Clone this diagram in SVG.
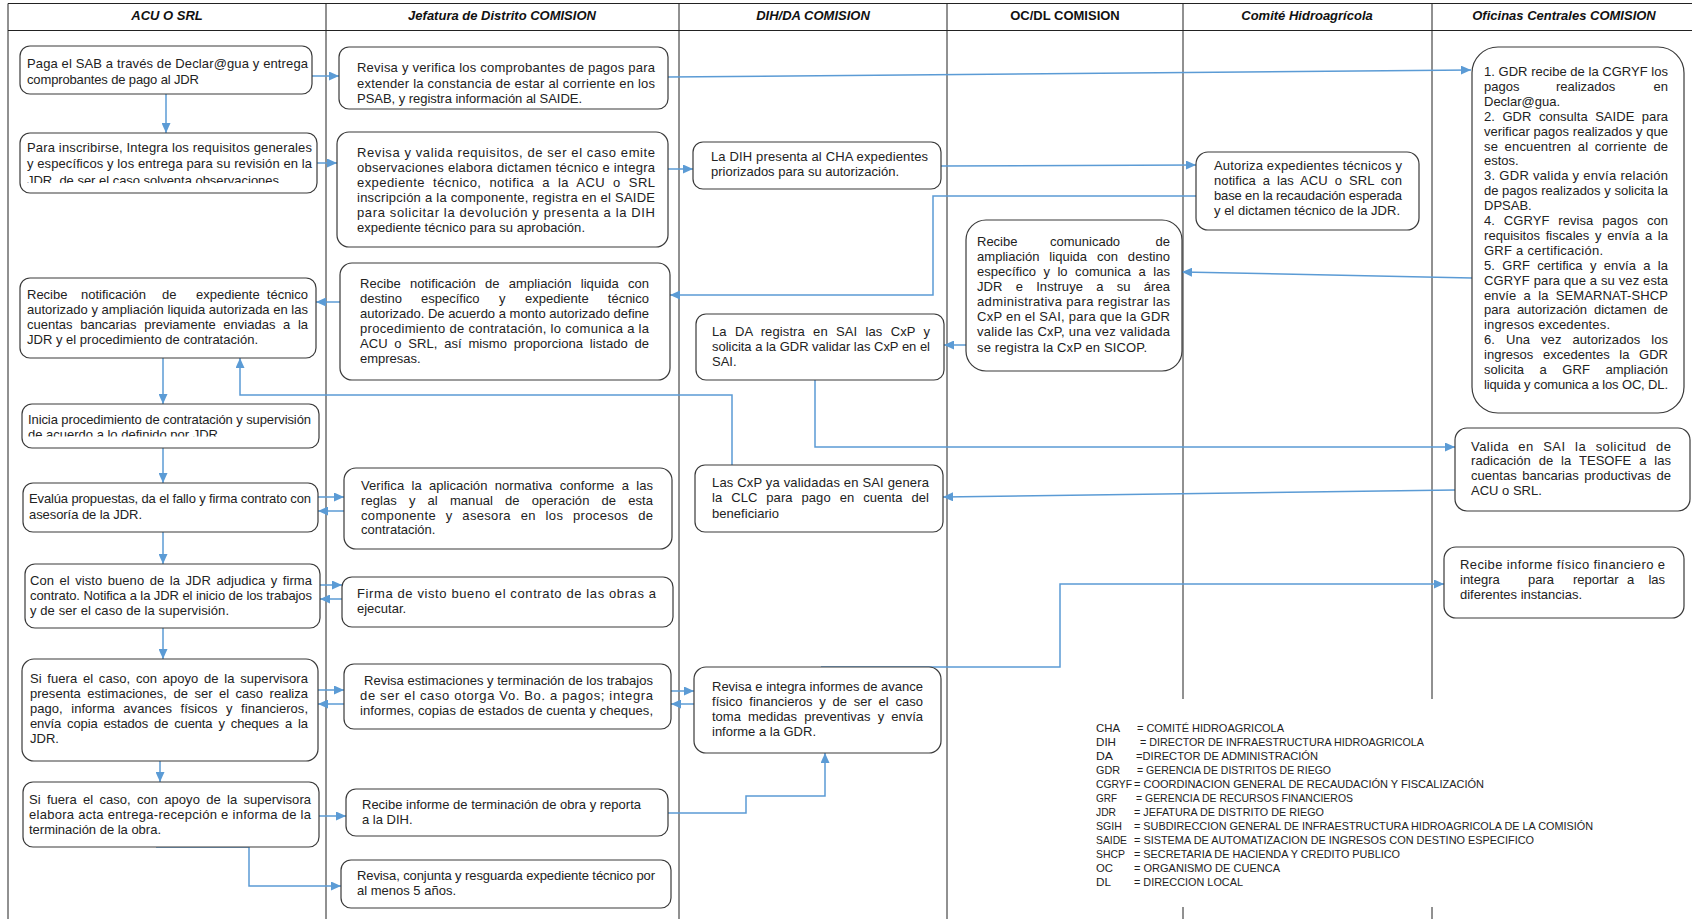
<svg xmlns="http://www.w3.org/2000/svg" width="1692" height="919" viewBox="0 0 1692 919">
<style>
.box{fill:#fff;stroke:#3a3a3a;stroke-width:1.2}
.t{font-family:'Liberation Sans',Arial,sans-serif;font-size:13px;fill:#222}
.hdr{font-family:'Liberation Sans',Arial,sans-serif;font-size:13px;font-weight:bold;font-style:italic;fill:#111;text-anchor:middle}
.lane{stroke:#222;stroke-width:1;fill:none}
.c{fill:none;stroke:#5b9bd5;stroke-width:1.5;marker-end:url(#ah)}
.lg{font-family:'Liberation Sans',Arial,sans-serif;font-size:11.8px;fill:#222}
</style>
<defs>
<marker id="ah" markerUnits="userSpaceOnUse" markerWidth="10" markerHeight="9" refX="10" refY="4.5" orient="auto">
<path d="M0,0 L10,4.5 L0,9 z" fill="#5b9bd5"/>
</marker>
<clipPath id="clipA2"><rect x="20" y="133" width="297" height="50"/></clipPath>
<clipPath id="clipA4"><rect x="22" y="404" width="297" height="32.5"/></clipPath>
<clipPath id="clipF2"><rect x="1455" y="441.5" width="235" height="70"/></clipPath>
</defs>
<rect width="1692" height="919" fill="#fff"/>

<g id="lanes">
<line class="lane" x1="8" y1="3.5" x2="1692" y2="3.5"/>
<line class="lane" x1="8" y1="30.5" x2="1692" y2="30.5"/>
<line class="lane" x1="8" y1="3.5" x2="8" y2="919"/>
<line class="lane" x1="326" y1="3.5" x2="326" y2="919"/>
<line class="lane" x1="679" y1="3.5" x2="679" y2="919"/>
<line class="lane" x1="947" y1="3.5" x2="947" y2="919"/>
<line class="lane" x1="1183" y1="3.5" x2="1183" y2="699"/>
<line class="lane" x1="1183" y1="907" x2="1183" y2="919"/>
<line class="lane" x1="1432" y1="3.5" x2="1432" y2="699"/>
<line class="lane" x1="1432" y1="907" x2="1432" y2="919"/>
<text class="hdr" x="167" y="20">ACU O SRL</text>
<text class="hdr" x="502" y="20">Jefatura de Distrito COMISION</text>
<text class="hdr" x="813" y="20">DIH/DA COMISION</text>
<text class="hdr" x="1065" y="20" style="font-style:normal">OC/DL COMISION</text>
<text class="hdr" x="1307" y="20">Comité Hidroagrícola</text>
<text class="hdr" x="1564" y="20">Oficinas Centrales COMISION</text>
</g>

<g id="connectors">
<path class="c" d="M312,76 L339,76"/>
<path class="c" d="M668,77 L1471,70"/>
<path class="c" d="M166,94 L166,133"/>
<path class="c" d="M317,163 L337,163"/>
<path class="c" d="M668,169 L693,169"/>
<path class="c" d="M941,166 L1196,165"/>
<path class="c" d="M1196,196 H933 V295 H670"/>
<path class="c" d="M340,302 H316"/>
<path class="c" d="M163,358 V404"/>
<path class="c" d="M799,466 H732 V395 H240 V358"/>
<path class="c" d="M163,448 V483"/>
<path class="c" d="M318,497 H344"/>
<path class="c" d="M344,511 H318"/>
<path class="c" d="M163,532 V564"/>
<path class="c" d="M320,585 H342"/>
<path class="c" d="M342,599 H320"/>
<path class="c" d="M163,628 V659"/>
<path class="c" d="M318,690 H344"/>
<path class="c" d="M344,704 H318"/>
<path class="c" d="M671,691 H694"/>
<path class="c" d="M694,704 H671"/>
<path class="c" d="M160,761 V782"/>
<path class="c" d="M319,816 H346"/>
<path class="c" d="M668,813 H746 V796 H825 V753"/>
<path class="c" d="M156,847 H249 V886 H341"/>
<path class="c" d="M821,667 H1060 V584 H1444"/>
<path class="c" d="M1472,278 L1182,272"/>
<path class="c" d="M966,345 H944"/>
<path class="c" d="M815,380 V447 H1455"/>
<path class="c" d="M1455,490 L943,497"/>
</g>

<g id="A1"><rect class="box" x="20" y="46" width="292" height="48" rx="10"/>
<text class="t" x="27" y="68" textLength="281" lengthAdjust="spacing">Paga el SAB a través de Declar@gua y entrega</text>
<text class="t" x="27" y="84" textLength="172" lengthAdjust="spacing">comprobantes de pago al JDR</text></g>

<g id="A2"><rect class="box" x="20" y="133" width="297" height="60" rx="10"/>
<g clip-path="url(#clipA2)">
<text class="t" x="27" y="151.5" textLength="285" lengthAdjust="spacing">Para inscribirse, Integra los requisitos generales</text>
<text class="t" x="27" y="167.5" textLength="285" lengthAdjust="spacing">y específicos y los entrega para su revisión en la</text>
<text class="t" x="27" y="184.5" textLength="252" lengthAdjust="spacing">JDR, de ser el caso solventa observaciones</text></g></g>

<g id="A3"><rect class="box" x="20" y="278" width="296" height="80" rx="10"/>
<text class="t" y="299"><tspan x="27">Recibe</tspan><tspan x="81">notificación</tspan><tspan x="162">de</tspan><tspan x="196">expediente</tspan><tspan x="308" text-anchor="end">técnico</tspan></text>
<text class="t" x="27" y="314" textLength="281" lengthAdjust="spacing">autorizado y ampliación liquida autorizada en las</text>
<text class="t" x="27" y="329" textLength="281" lengthAdjust="spacing" style="word-spacing:4px">cuentas bancarias previamente enviadas a la</text>
<text class="t" x="27" y="344" textLength="231" lengthAdjust="spacing">JDR y el procedimiento de contratación.</text></g>

<g id="A4"><rect class="box" x="22" y="404" width="297" height="44" rx="10"/>
<g clip-path="url(#clipA4)">
<text class="t" x="28" y="423.5" textLength="283" lengthAdjust="spacing">Inicia procedimiento de contratación y supervisión</text>
<text class="t" x="28" y="438.5" textLength="190" lengthAdjust="spacing">de acuerdo a lo definido por JDR</text></g></g>

<g id="A5"><rect class="box" x="23" y="483" width="295" height="49" rx="10"/>
<text class="t" x="29" y="503" textLength="282" lengthAdjust="spacing">Evalúa propuestas, da el fallo y firma contrato con</text>
<text class="t" x="29" y="518.5" textLength="113" lengthAdjust="spacing">asesoría de la JDR.</text></g>

<g id="A6"><rect class="box" x="25" y="564" width="295" height="64" rx="10"/>
<text class="t" x="30" y="585" textLength="282" lengthAdjust="spacing" style="word-spacing:1.8px">Con el visto bueno de la JDR adjudica y firma</text>
<text class="t" x="30" y="600" textLength="282" lengthAdjust="spacing">contrato. Notifica a la JDR el inicio de los trabajos</text>
<text class="t" x="30" y="615" textLength="199" lengthAdjust="spacing">y de ser el caso de la  supervisión.</text></g>

<g id="A7"><rect class="box" x="22" y="659" width="296" height="102" rx="12"/>
<text class="t" x="30" y="683" textLength="278" lengthAdjust="spacing" style="word-spacing:2px">Si fuera el caso, con apoyo de la supervisora</text>
<text class="t" x="30" y="698" textLength="278" lengthAdjust="spacing" style="word-spacing:2.8px">presenta estimaciones, de ser el caso realiza</text>
<text class="t" x="30" y="713" textLength="278" lengthAdjust="spacing" style="word-spacing:4.8px">pago, informa avances físicos y financieros,</text>
<text class="t" x="30" y="728" textLength="278" lengthAdjust="spacing" style="word-spacing:2.5px">envía copia estados de cuenta y cheques a la</text>
<text class="t" x="30" y="743">JDR.</text></g>

<g id="A8"><rect class="box" x="23" y="782" width="296" height="65" rx="10"/>
<text class="t" x="29" y="804" textLength="282" lengthAdjust="spacing" style="word-spacing:2.6px">Si fuera el caso, con apoyo de la supervisora</text>
<text class="t" x="29" y="819" textLength="282" lengthAdjust="spacing">elabora acta entrega-recepción e informa de la</text>
<text class="t" x="29" y="834" textLength="132" lengthAdjust="spacing">terminación de la obra.</text></g>

<g id="J1"><rect class="box" x="339" y="47" width="329" height="62" rx="10"/>
<text class="t" x="357" y="72" textLength="298" lengthAdjust="spacing">Revisa y verifica los comprobantes de pagos para</text>
<text class="t" x="357" y="87.5" textLength="298" lengthAdjust="spacing">extender la constancia de estar al corriente en los</text>
<text class="t" x="357" y="103" textLength="225" lengthAdjust="spacing">PSAB, y registra información al SAIDE.</text></g>

<g id="J2"><rect class="box" x="337" y="132" width="331" height="115" rx="12"/>
<text class="t" x="357" y="157" textLength="298" lengthAdjust="spacing">Revisa y valida requisitos, de ser el caso emite</text>
<text class="t" x="357" y="172" textLength="298" lengthAdjust="spacing">observaciones elabora dictamen técnico e integra</text>
<text class="t" x="357" y="187" textLength="298" lengthAdjust="spacing" style="word-spacing:4px">expediente técnico, notifica a la ACU o SRL</text>
<text class="t" x="357" y="202" textLength="298" lengthAdjust="spacing">inscripción a la componente, registra en el SAIDE</text>
<text class="t" x="357" y="217" textLength="298" lengthAdjust="spacing">para solicitar la devolución y presenta a la DIH</text>
<text class="t" x="357" y="232" textLength="228" lengthAdjust="spacing">expediente técnico para su aprobación.</text></g>

<g id="J3"><rect class="box" x="340" y="263" width="330" height="117" rx="12"/>
<text class="t" x="360" y="288" textLength="289" lengthAdjust="spacing" style="word-spacing:5.5px">Recibe notificación de ampliación liquida con</text>
<text class="t" y="303"><tspan x="360">destino</tspan><tspan x="421">específico</tspan><tspan x="499">y</tspan><tspan x="525">expediente</tspan><tspan x="649" text-anchor="end">técnico</tspan></text>
<text class="t" x="360" y="318" textLength="289" lengthAdjust="spacing">autorizado. De acuerdo a monto autorizado define</text>
<text class="t" x="360" y="333" textLength="289" lengthAdjust="spacing">procedimiento de contratación, lo comunica a la</text>
<text class="t" x="360" y="348" textLength="289" lengthAdjust="spacing" style="word-spacing:3px">ACU o SRL, así mismo proporciona listado de</text>
<text class="t" x="360" y="363">empresas.</text></g>

<g id="J4"><rect class="box" x="344" y="468" width="328" height="81" rx="12"/>
<text class="t" x="361" y="490" textLength="292" lengthAdjust="spacing" style="word-spacing:3.6px">Verifica la aplicación normativa conforme a las</text>
<text class="t" x="361" y="505" textLength="292" lengthAdjust="spacing" style="word-spacing:8.4px">reglas y al manual de operación de esta</text>
<text class="t" x="361" y="520" textLength="292" lengthAdjust="spacing" style="word-spacing:5.8px">componente y asesora  en los procesos de</text>
<text class="t" x="361" y="534">contratación.</text></g>

<g id="J5"><rect class="box" x="342" y="577" width="331" height="50" rx="10"/>
<text class="t" x="357" y="598" textLength="299" lengthAdjust="spacing">Firma de visto bueno el contrato de las obras a</text>
<text class="t" x="357" y="613">ejecutar.</text></g>

<g id="J6"><rect class="box" x="344" y="664" width="327" height="65" rx="10"/>
<text class="t" x="364" y="684.5" textLength="289" lengthAdjust="spacing">Revisa estimaciones y terminación de los trabajos</text>
<text class="t" x="360" y="699.5" textLength="293" lengthAdjust="spacing">de ser el caso otorga Vo. Bo. a pagos; integra</text>
<text class="t" x="360" y="714.5" textLength="293" lengthAdjust="spacing">informes, copias de estados de cuenta y cheques,</text></g>

<g id="J7"><rect class="box" x="346" y="789" width="322" height="47" rx="10"/>
<text class="t" x="362" y="808.5" textLength="279" lengthAdjust="spacing">Recibe informe de terminación de obra y reporta</text>
<text class="t" x="362" y="823.5">a la DIH.</text></g>

<g id="J8"><rect class="box" x="341" y="860" width="330" height="48" rx="10"/>
<text class="t" x="357" y="879.5" textLength="298" lengthAdjust="spacing">Revisa, conjunta y resguarda expediente técnico por</text>
<text class="t" x="357" y="894.5">al menos 5 años.</text></g>

<g id="D1"><rect class="box" x="693" y="142" width="248" height="47" rx="10"/>
<text class="t" x="711" y="161" textLength="217" lengthAdjust="spacing">La DIH presenta al CHA expedientes</text>
<text class="t" x="711" y="176" textLength="188" lengthAdjust="spacing">priorizados para su autorización.</text></g>

<g id="D2"><rect class="box" x="696" y="314" width="248" height="66" rx="10"/>
<text class="t" x="712" y="336" textLength="218" lengthAdjust="spacing" style="word-spacing:4.5px">La DA registra en SAI las CxP y</text>
<text class="t" x="712" y="350.5" textLength="218" lengthAdjust="spacing">solicita a la GDR validar las CxP en el</text>
<text class="t" x="712" y="365.5">SAI.</text></g>

<g id="D3"><rect class="box" x="695" y="465" width="248" height="67" rx="10"/>
<text class="t" x="712" y="486.5" textLength="217" lengthAdjust="spacing">Las CxP ya validadas en SAI genera</text>
<text class="t" x="712" y="501.5" textLength="217" lengthAdjust="spacing" style="word-spacing:5.3px">la CLC para pago en cuenta del</text>
<text class="t" x="712" y="517.5" textLength="67" lengthAdjust="spacing">beneficiario</text></g>

<g id="D4"><rect class="box" x="694" y="667" width="247" height="86" rx="12"/>
<text class="t" x="712" y="690.5" textLength="211" lengthAdjust="spacing">Revisa e integra informes de avance</text>
<text class="t" x="712" y="705.5" textLength="211" lengthAdjust="spacing" style="word-spacing:3px">físico financieros y de ser el caso</text>
<text class="t" x="712" y="720.5" textLength="211" lengthAdjust="spacing" style="word-spacing:3.5px">toma medidas preventivas y envía</text>
<text class="t" x="712" y="735.5" textLength="104" lengthAdjust="spacing">informe a la GDR.</text></g>

<g id="O1"><rect class="box" x="966" y="220" width="216" height="151" rx="20"/>
<text class="t" y="246"><tspan x="977">Recibe</tspan><tspan x="1050">comunicado</tspan><tspan x="1170" text-anchor="end">de</tspan></text>
<text class="t" x="977" y="261" textLength="193" lengthAdjust="spacing" style="word-spacing:6.2px">ampliación liquida con destino</text>
<text class="t" x="977" y="276" textLength="193" lengthAdjust="spacing" style="word-spacing:3.8px">específico y lo comunica a las</text>
<text class="t" x="977" y="291" textLength="193" lengthAdjust="spacing" style="word-spacing:9.5px">JDR e Instruye a su área</text>
<text class="t" x="977" y="306" textLength="193" lengthAdjust="spacing">administrativa para registrar las</text>
<text class="t" x="977" y="321" textLength="193" lengthAdjust="spacing">CxP en el SAI, para que la GDR</text>
<text class="t" x="977" y="336" textLength="193" lengthAdjust="spacing">valide las CxP, una vez validada</text>
<text class="t" x="977" y="351.5" textLength="170" lengthAdjust="spacing">se registra la CxP en SICOP.</text></g>

<g id="C1"><rect class="box" x="1196" y="152" width="223" height="78" rx="12"/>
<text class="t" x="1214" y="169.5" textLength="188" lengthAdjust="spacing">Autoriza expedientes técnicos y</text>
<text class="t" x="1214" y="184.5" textLength="188" lengthAdjust="spacing" style="word-spacing:3.2px">notifica a las ACU o SRL con</text>
<text class="t" x="1214" y="199.5" textLength="188" lengthAdjust="spacing">base en la recaudación esperada</text>
<text class="t" x="1214" y="214.5" textLength="186" lengthAdjust="spacing">y el dictamen técnico de la JDR.</text></g>

<g id="F1"><rect class="box" x="1472" y="47" width="212" height="366" rx="26"/>
<text class="t" x="1484" y="76" textLength="184" lengthAdjust="spacing">1. GDR recibe de la CGRYF los</text>
<text class="t" y="90.9"><tspan x="1484">pagos</tspan><tspan x="1556">realizados</tspan><tspan x="1668" text-anchor="end">en</tspan></text>
<text class="t" x="1484" y="105.8">Declar@gua.</text>
<text class="t" x="1484" y="120.7" textLength="184" lengthAdjust="spacing" style="word-spacing:3.8px">2. GDR consulta SAIDE para</text>
<text class="t" x="1484" y="135.6" textLength="184" lengthAdjust="spacing">verificar pagos realizados  y que</text>
<text class="t" x="1484" y="150.5" textLength="184" lengthAdjust="spacing" style="word-spacing:2.8px">se encuentren al corriente de</text>
<text class="t" x="1484" y="165.4">estos.</text>
<text class="t" x="1484" y="180.3" textLength="184" lengthAdjust="spacing">3. GDR valida y envía relación</text>
<text class="t" x="1484" y="195.2" textLength="184" lengthAdjust="spacing">de pagos realizados y solicita la</text>
<text class="t" x="1484" y="210.1">DPSAB.</text>
<text class="t" x="1484" y="225" textLength="184" lengthAdjust="spacing" style="word-spacing:5.2px">4. CGRYF revisa pagos con</text>
<text class="t" x="1484" y="239.9" textLength="184" lengthAdjust="spacing" style="word-spacing:2px">requisitos fiscales y envía a la</text>
<text class="t" x="1484" y="254.8" textLength="119" lengthAdjust="spacing">GRF a certificación.</text>
<text class="t" x="1484" y="269.7" textLength="184" lengthAdjust="spacing" style="word-spacing:3.6px">5. GRF certifica y envía a la</text>
<text class="t" x="1484" y="284.6" textLength="184" lengthAdjust="spacing">CGRYF para que a su vez esta</text>
<text class="t" x="1484" y="299.5" textLength="184" lengthAdjust="spacing" style="word-spacing:3.5px">envíe a la SEMARNAT-SHCP</text>
<text class="t" x="1484" y="314.4" textLength="184" lengthAdjust="spacing" style="word-spacing:3.2px">para autorización dictamen de</text>
<text class="t" x="1484" y="329.3" textLength="126" lengthAdjust="spacing">ingresos excedentes.</text>
<text class="t" x="1484" y="344.2" textLength="184" lengthAdjust="spacing" style="word-spacing:7.4px">6. Una vez autorizados los</text>
<text class="t" x="1484" y="359.1" textLength="184" lengthAdjust="spacing" style="word-spacing:5.9px">ingresos excedentes la GDR</text>
<text class="t" x="1484" y="374" textLength="184" lengthAdjust="spacing" style="word-spacing:11.8px">solicita a GRF ampliación</text>
<text class="t" x="1484" y="388.9" textLength="184" lengthAdjust="spacing">liquida y comunica a los OC, DL.</text></g>

<g id="F2"><rect class="box" x="1455" y="428" width="235" height="83" rx="12"/>
<g clip-path="url(#clipF2)">
<text class="t" x="1471" y="450.5" textLength="200" lengthAdjust="spacing" style="word-spacing:5.5px">Valida en SAI  la solicitud de</text>
<text class="t" x="1471" y="465" textLength="200" lengthAdjust="spacing" style="word-spacing:4.2px">radicación de la TESOFE a las</text>
<text class="t" x="1471" y="480" textLength="200" lengthAdjust="spacing" style="word-spacing:1.8px">cuentas bancarias productivas de</text>
<text class="t" x="1471" y="495">ACU o SRL.</text></g></g>

<g id="F3"><rect class="box" x="1444" y="547" width="240" height="71" rx="12"/>
<text class="t" x="1460" y="568.5" textLength="205" lengthAdjust="spacing">Recibe informe físico financiero e</text>
<text class="t" y="583.5"><tspan x="1460">integra</tspan><tspan x="1528">para</tspan><tspan x="1573">reportar</tspan><tspan x="1627">a</tspan><tspan x="1665" text-anchor="end">las</tspan></text>
<text class="t" x="1460" y="598.5" textLength="122" lengthAdjust="spacing">diferentes instancias.</text></g>

<g id="legend">
<text class="lg" x="1096" y="732" textLength="24" lengthAdjust="spacingAndGlyphs">CHA</text><text class="lg" x="1137" y="732" textLength="147" lengthAdjust="spacingAndGlyphs">= COMITÉ HIDROAGRICOLA</text>
<text class="lg" x="1096" y="746" textLength="20" lengthAdjust="spacingAndGlyphs">DIH</text><text class="lg" x="1140" y="746" textLength="284" lengthAdjust="spacingAndGlyphs">= DIRECTOR DE INFRAESTRUCTURA HIDROAGRICOLA</text>
<text class="lg" x="1096" y="760" textLength="17" lengthAdjust="spacingAndGlyphs">DA</text><text class="lg" x="1136" y="760" textLength="182" lengthAdjust="spacingAndGlyphs">=DIRECTOR DE ADMINISTRACIÓN</text>
<text class="lg" x="1096" y="774" textLength="24" lengthAdjust="spacingAndGlyphs">GDR</text><text class="lg" x="1137" y="774" textLength="194" lengthAdjust="spacingAndGlyphs">= GERENCIA DE DISTRITOS DE RIEGO</text>
<text class="lg" x="1096" y="788" textLength="36" lengthAdjust="spacingAndGlyphs">CGRYF</text><text class="lg" x="1134" y="788" textLength="350" lengthAdjust="spacingAndGlyphs">= COORDINACION GENERAL DE RECAUDACIÓN Y FISCALIZACIÓN</text>
<text class="lg" x="1096" y="802" textLength="21" lengthAdjust="spacingAndGlyphs">GRF</text><text class="lg" x="1136" y="802" textLength="217" lengthAdjust="spacingAndGlyphs">= GERENCIA DE RECURSOS FINANCIEROS</text>
<text class="lg" x="1096" y="816" textLength="20" lengthAdjust="spacingAndGlyphs">JDR</text><text class="lg" x="1134" y="816" textLength="190" lengthAdjust="spacingAndGlyphs">= JEFATURA DE DISTRITO DE RIEGO</text>
<text class="lg" x="1096" y="830" textLength="26" lengthAdjust="spacingAndGlyphs">SGIH</text><text class="lg" x="1134" y="830" textLength="459" lengthAdjust="spacingAndGlyphs">= SUBDIRECCION GENERAL DE INFRAESTRUCTURA HIDROAGRICOLA DE LA COMISIÓN</text>
<text class="lg" x="1096" y="844" textLength="31" lengthAdjust="spacingAndGlyphs">SAIDE</text><text class="lg" x="1134" y="844" textLength="400" lengthAdjust="spacingAndGlyphs">= SISTEMA DE AUTOMATIZACION DE INGRESOS CON DESTINO ESPECIFICO</text>
<text class="lg" x="1096" y="858" textLength="29" lengthAdjust="spacingAndGlyphs">SHCP</text><text class="lg" x="1134" y="858" textLength="266" lengthAdjust="spacingAndGlyphs">= SECRETARIA DE HACIENDA Y CREDITO PUBLICO</text>
<text class="lg" x="1096" y="872" textLength="17" lengthAdjust="spacingAndGlyphs">OC</text><text class="lg" x="1134" y="872" textLength="146" lengthAdjust="spacingAndGlyphs">= ORGANISMO DE CUENCA</text>
<text class="lg" x="1096" y="886" textLength="15" lengthAdjust="spacingAndGlyphs">DL</text><text class="lg" x="1134" y="886" textLength="109" lengthAdjust="spacingAndGlyphs">= DIRECCION LOCAL</text>
</g>
</svg>
